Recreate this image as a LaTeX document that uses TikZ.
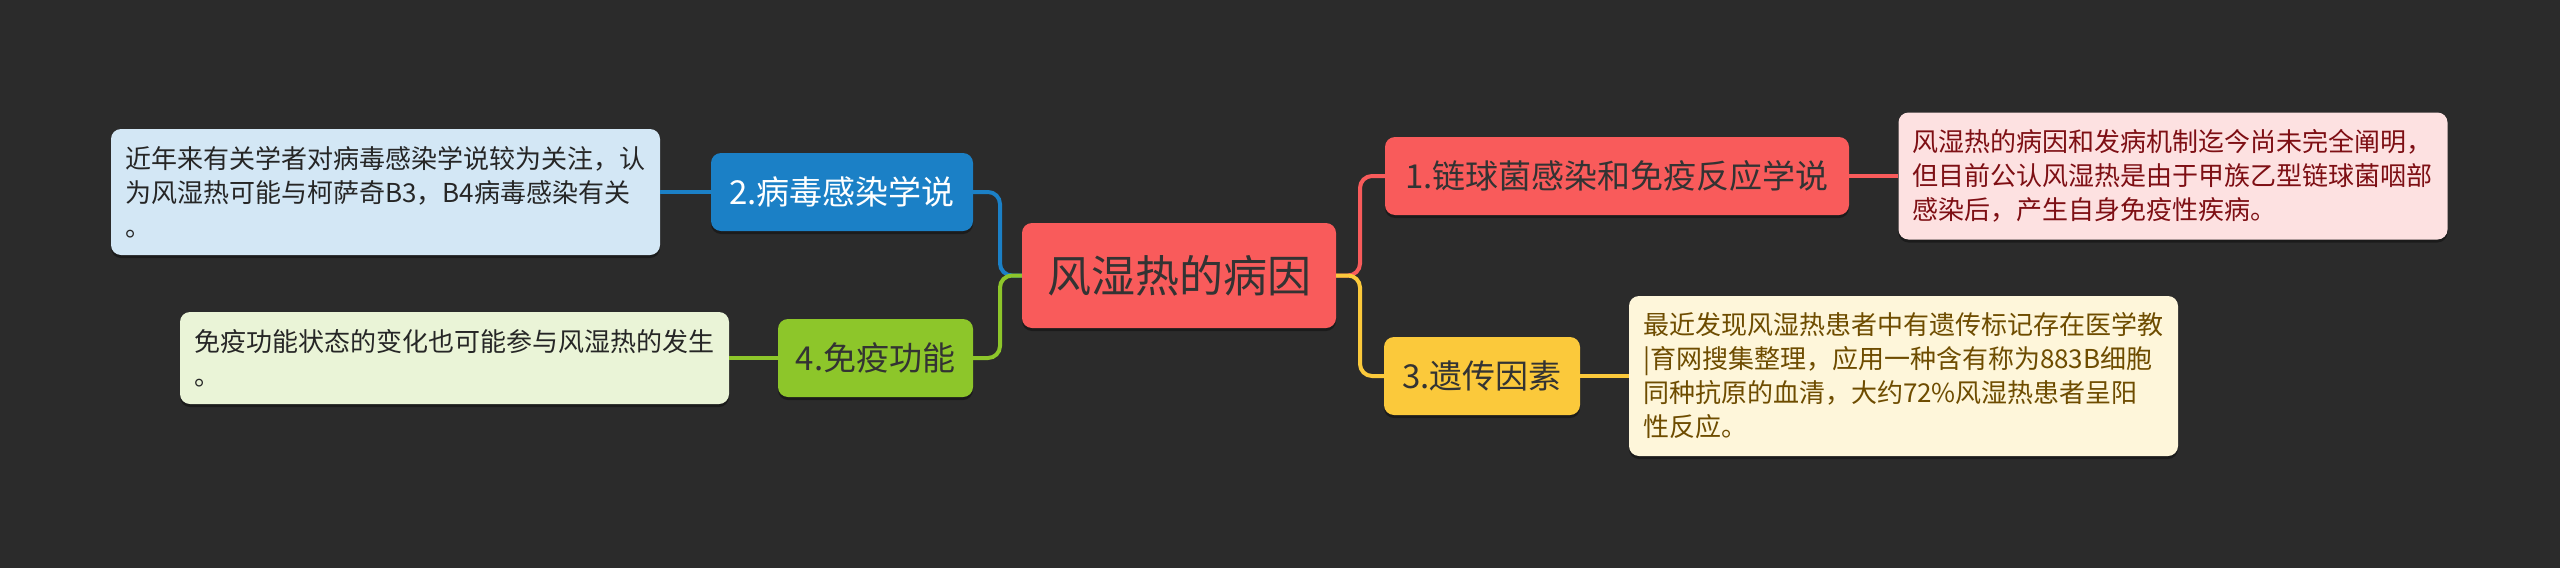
\documentclass[tikz,border=0pt]{standalone}
\usepackage{fontspec}
\setmainfont{Noto Sans CJK SC}
\usetikzlibrary{shadows}
\definecolor{bg}{HTML}{2B2B2B}
\definecolor{redf}{HTML}{F95B5B}
\definecolor{redl}{HTML}{FDE1E1}
\definecolor{redt}{HTML}{7E0F14}
\definecolor{bluef}{HTML}{1B80C6}
\definecolor{bluel}{HTML}{D3E7F5}
\definecolor{yelf}{HTML}{FBC93B}
\definecolor{yell}{HTML}{FEF6DA}
\definecolor{yelt}{HTML}{6E4C00}
\definecolor{grnf}{HTML}{8DC62A}
\definecolor{grnl}{HTML}{EAF4D7}
\definecolor{dark}{HTML}{333333}
\begin{document}
\begin{tikzpicture}[x=1pt,y=-1pt,
  shad/.style={drop shadow={shadow xshift=0pt,shadow yshift=-3pt,opacity=0.35,fill=black}},
  topic/.style={rectangle,rounded corners=10pt,inner sep=0pt,align=center,minimum height=78pt,font=\fontsize{33}{40}\selectfont,shad},
  leaf/.style={rectangle,rounded corners=10pt,inner xsep=14pt,inner ysep=0pt,text width=521pt,align=left,font=\fontsize{26}{34}\selectfont,shad},
  link/.style={line width=4pt,rounded corners=12pt}]
\fill[bg] (0,0) rectangle (2560,568);
\useasboundingbox (0,0) rectangle (2560,568);

% nodes
\node[topic,fill=redf,text=dark,minimum width=314pt,minimum height=105pt,font=\fontsize{44}{50}\selectfont] (c) at (1179,275.5) {风湿热的病因};

\node[topic,fill=redf,text=dark,minimum width=464pt] (b1) at (1617,176) {1.链球菌感染和免疫反应学说};
\node[topic,fill=bluef,text=white,minimum width=262pt] (b2) at (842,192) {2.病毒感染学说};
\node[topic,fill=yelf,text=dark,minimum width=196pt] (b3) at (1482,376) {3.遗传因素};
\node[topic,fill=grnf,text=dark,minimum width=195pt] (b4) at (875.5,358) {4.免疫功能};

\node[leaf,fill=redl,text=redt,minimum height=127pt] (l1) at (2173,176) {风湿热的病因和发病机制迄今尚未完全阐明，\\但目前公认风湿热是由于甲族乙型链球菌咽部\\感染后，产生自身免疫性疾病。};
\node[leaf,fill=bluel,text=black!85,minimum height=126pt] (l2) at (385.5,192) {近年来有关学者对病毒感染学说较为关注，认\\为风湿热可能与柯萨奇B3，B4病毒感染有关\\。};
\node[leaf,fill=yell,text=yelt,minimum height=160pt] (l3) at (1903.5,376) {最近发现风湿热患者中有遗传标记存在医学教\\|育网搜集整理，应用一种含有称为883B细胞\\同种抗原的血清，大约72\%风湿热患者呈阳\\性反应。};
\node[leaf,fill=grnl,text=black!85,minimum height=92pt] (l4) at (454.5,358) {免疫功能状态的变化也可能参与风湿热的发生\\。};

\coordinate (rv) at (1360,275.5);
\coordinate (lv) at (1000,275.5);

% connectors
\begin{scope}[on background layer/.style={}]
\draw[link,redf] (c.east) -- (rv) |- (b1.west);
\draw[link,yelf] (c.east) -- (rv) |- (b3.west);
\draw[link,bluef] (c.west) -- (lv) |- (b2.east);
\draw[link,grnf] (c.west) -- (lv) |- (b4.east);
\draw[line width=4pt,redf] (b1.east) -- (l1.west);
\draw[line width=4pt,bluef] (b2.west) -- (l2.east);
\draw[line width=4pt,yelf] (b3.east) -- (l3.west);
\draw[line width=4pt,grnf] (b4.west) -- (b4.west -| l4.east);
\end{scope}
\end{tikzpicture}
\end{document}
